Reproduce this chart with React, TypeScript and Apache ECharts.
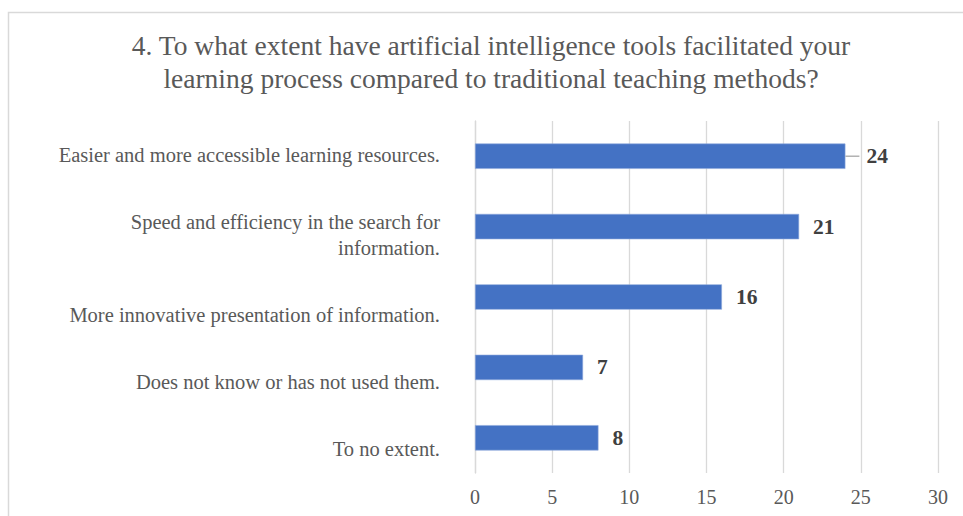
import React, { useEffect, useRef } from "react";
import * as echarts from "echarts";

const titleText =
  "4. To what extent have artificial intelligence tools facilitated your\nlearning process compared to traditional teaching methods?";
const categories = [
  "Easier and more accessible learning resources.",
  "Speed and efficiency in the search for\ninformation.",
  "More innovative presentation of information.",
  "Does not know or has not used them.",
  "To no extent.",
];
const values = [24, 21, 16, 7, 8];
// Excel-style label placement: padding that shifts each category label (shift = top/2 - bottom/2)
const labelPads = [
  [0, 0, 3, 0],
  [16, 0, 0, 0],
  [36, 0, 0, 0],
  [29, 0, 0, 0],
  [22, 0, 0, 0],
];
// index of the value label that has a leader line
const leaderIndex = 0;
const xMin = 0;
const xMax = 30;
const xStep = 5;

const FONT = "'Liberation Serif', 'Times New Roman', serif";
const LABEL_SIZE = 20.5;

export default function App() {
  const ref = useRef<HTMLDivElement>(null);
  useEffect(() => {
    if (!ref.current) return;
    const chart = echarts.init(ref.current, null, { renderer: "svg" });
    const rich: Record<string, any> = {};
    labelPads.forEach((p, i) => {
      rich["s" + i] = {
        fontFamily: FONT,
        fontSize: LABEL_SIZE,
        color: "#595959",
        lineHeight: 26,
        padding: p,
      };
    });
    const valueStyle = {
      fontFamily: FONT,
      fontSize: 21.5,
      fontWeight: "bold",
      color: "#404040",
    };
    chart.setOption({
      animation: false,
      backgroundColor: "#ffffff",
      textStyle: { fontFamily: FONT },
      title: {
        text: titleText,
        left: 486,
        textAlign: "center",
        top: 24,
        textStyle: {
          fontFamily: FONT,
          fontSize: 27.5,
          fontWeight: "normal",
          color: "#595959",
          lineHeight: 33,
        },
      },
      graphic: [
        {
          type: "rect",
          shape: { x: 8.5, y: 12.5, width: 1000, height: 600 },
          style: { fill: "none", stroke: "#d9d9d9", lineWidth: 1.5 },
          silent: true,
        },
      ],
      grid: { left: 475, right: 25, top: 121, bottom: 43, containLabel: false },
      xAxis: {
        type: "value",
        min: xMin,
        max: xMax,
        interval: xStep,
        axisLine: { show: false },
        axisTick: { show: false },
        splitLine: { show: true, lineStyle: { color: "#d9d9d9", width: 1.3 } },
        axisLabel: {
          fontFamily: FONT,
          fontSize: 20,
          color: "#595959",
          margin: 14,
        },
      },
      yAxis: {
        type: "category",
        inverse: true,
        data: categories,
        axisLine: { show: true, lineStyle: { color: "#d9d9d9", width: 1.3 } },
        axisTick: { show: false },
        axisLabel: {
          fontFamily: FONT,
          fontSize: LABEL_SIZE,
          color: "#595959",
          margin: 35,
          lineHeight: 26,
          formatter: (v: string, i: number) =>
            v
              .split("\n")
              .map((line) => `{s${i}|${line}}`)
              .join("\n"),
          rich,
        },
      },
      series: [
        {
          type: "bar",
          data: values.map((v, i) =>
            i === leaderIndex
              ? {
                  value: v,
                  label: {
                    distance: 0,
                    formatter: "{ln|}{gap|}{v|{c}}",
                  },
                }
              : { value: v }
          ),
          barCategoryGap: "64%",
          itemStyle: { color: "#4472C4", borderColor: "#8faadc", borderWidth: 0.6 },
          label: {
            show: true,
            position: "right",
            distance: 14,
            ...valueStyle,
            rich: {
              ln: { width: 14, height: 1.3, backgroundColor: "#a6a6a6" },
              gap: { width: 7, height: 1 },
              v: { ...valueStyle },
            },
          },
        },
      ],
    });
    return () => chart.dispose();
  }, []);
  return (
    <div
      style={{ position: "fixed", left: 0, top: 0, width: 963, height: 516 }}
      ref={ref}
    />
  );
}
